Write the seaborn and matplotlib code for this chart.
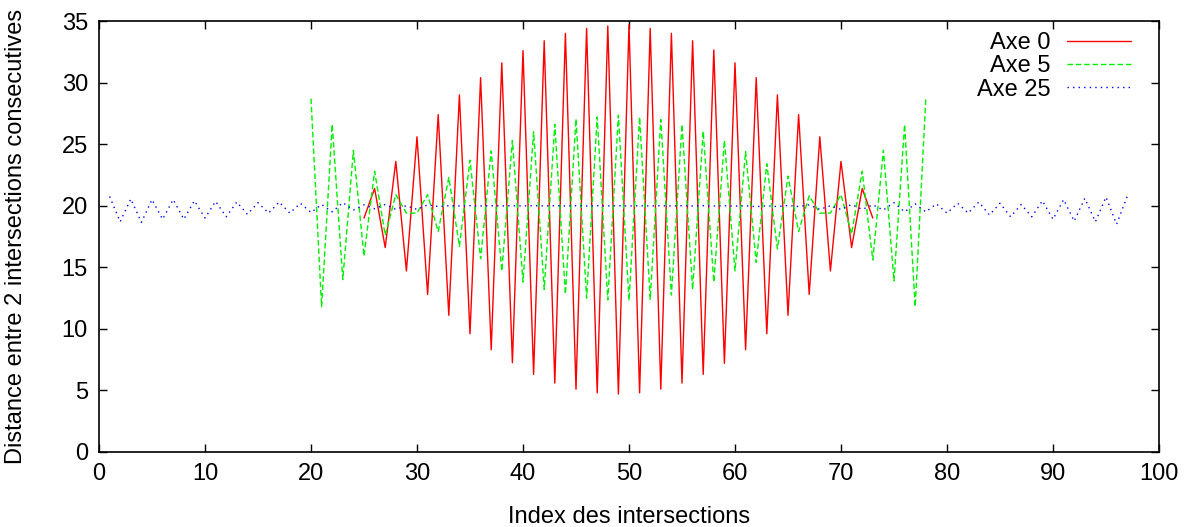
import matplotlib
matplotlib.use("Agg")
import matplotlib.pyplot as plt
import pandas as pd
import seaborn as sns

# Axe 0 : indices 25..73
axe0_x = list(range(25, 74))
axe0_y = [19.0, 21.4, 16.6, 23.6, 14.7, 25.6, 12.8, 27.4, 11.1, 29.0,
          9.6, 30.4, 8.3, 31.6, 7.25, 32.6, 6.3, 33.4, 5.6, 34.0,
          5.1, 34.4, 4.8, 34.6, 4.7, 34.7, 4.8, 34.4, 5.1, 34.0,
          5.6, 33.4, 6.3, 32.65, 7.2, 31.6, 8.3, 30.4, 9.6, 29.0,
          11.1, 27.4, 12.8, 25.6, 14.7, 23.6, 16.6, 21.4, 19.0]

# Axe 5 : indices 20..78
axe5_x = list(range(20, 79))
axe5_y = [28.7, 11.8, 26.6, 14.0, 24.5, 15.9, 22.8, 17.6, 20.9, 19.4,
          19.4, 20.9, 17.9, 22.3, 16.7, 23.7, 15.7, 24.45, 14.7, 25.3,
          13.8, 26.0, 13.2, 26.6, 12.8, 27.05, 12.5, 27.2, 12.35, 27.35,
          12.3, 27.2, 12.4, 27.0, 12.75, 26.6, 13.2, 26.05, 13.8, 25.3,
          14.7, 24.4, 15.4, 23.4, 16.5, 22.4, 17.9, 20.8, 19.4, 19.4,
          20.9, 17.7, 22.8, 15.6, 24.5, 13.9, 26.6, 11.8, 28.7]

# Axe 25 : indices 1..97
axe25_x = list(range(1, 98))
axe25_y = [20.75, 18.7, 20.55, 18.65, 20.5, 18.9, 20.5, 18.9, 20.4, 19.0,
           20.35, 19.1, 20.3, 19.3, 20.25, 19.4, 20.3, 19.4, 20.2, 19.45,
           20.1, 19.5, 20.25, 19.65, 20.07, 19.75, 20.1, 19.7, 20.0, 19.7,
           20.07, 19.93, 20.0, 19.98, 20.0, 19.98, 20.0, 19.98, 20.0, 19.98,
           20.0, 19.98, 20.0, 19.98, 20.0, 19.98, 20.0, 19.98, 20.0, 19.98,
           20.0, 19.98, 20.0, 19.98, 20.0, 19.98, 20.0, 19.98, 20.0, 19.97,
           20.0, 19.92, 20.0, 19.93, 20.02, 19.93, 20.07, 19.7, 20.0, 19.7,
           20.1, 19.7, 20.07, 19.65, 20.25, 19.5, 20.15, 19.5, 20.15, 19.4,
           20.2, 19.4, 20.3, 19.25, 20.2, 19.1, 20.1, 19.1, 20.4, 18.9,
           20.5, 18.75, 20.6, 18.7, 20.7, 18.5, 20.75]

sns.set_style("ticks")
plt.rcParams['font.family'] = ['Liberation Sans', 'DejaVu Sans']
plt.rcParams['text.color'] = 'black'
plt.rcParams['axes.labelcolor'] = 'black'
plt.rcParams['xtick.color'] = 'black'
plt.rcParams['ytick.color'] = 'black'
fs = 17

fig = plt.figure(figsize=(11.89, 5.27), dpi=100)
ax = fig.add_axes([99 / 1189, 75 / 527, 1060 / 1189, 431 / 527])

sns.lineplot(x=axe0_x, y=axe0_y, ax=ax, color="#ff0000", linewidth=1.0,
             label="Axe 0")
sns.lineplot(x=axe5_x, y=axe5_y, ax=ax, color="#00f000", linewidth=1.0,
             label="Axe 5")
sns.lineplot(x=axe25_x, y=axe25_y, ax=ax, color="#0000ff", linewidth=1.0,
             label="Axe 25")
ax.lines[1].set_dashes((4, 2))
ax.lines[2].set_dashes((1, 3))

ax.set_xlim(0, 100)
ax.set_ylim(0, 35)
ax.set_xticks(range(0, 101, 10))
ax.set_yticks(range(0, 36, 5))
ax.tick_params(direction="in", length=6, width=1, top=True, right=True,
               labelsize=fs, pad=8)
for s in ax.spines.values():
    s.set_linewidth(1.2)
    s.set_color("black")
ax.set_xlabel("Index des intersections", fontsize=fs, labelpad=15)
ax.set_ylabel("Distance entre 2 intersections consecutives", fontsize=fs,
              labelpad=25)

leg = ax.legend(loc="upper right", bbox_to_anchor=(0.974, 0.974),
                frameon=False, markerfirst=False, borderpad=0,
                handlelength=2.75, handletextpad=0.68, labelspacing=0.05,
                borderaxespad=0, fontsize=fs)

fig.savefig("out.png", dpi=100)
